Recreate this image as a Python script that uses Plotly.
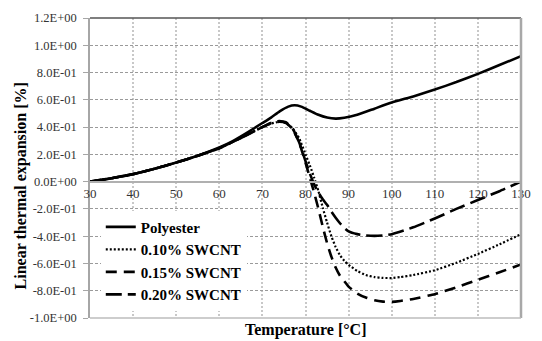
import plotly.graph_objects as go

# Temperature (°C) and linear thermal expansion (%) for each sample
t_poly = [30, 32, 35, 40, 45, 50, 55, 60, 63, 66, 70, 72, 74, 76, 77.5, 79, 81, 83, 85, 87, 89,
          92, 96, 100, 105, 110, 115, 120, 125, 130]
v_poly = [0.0, 0.008, 0.025, 0.055, 0.095, 0.14, 0.19, 0.25, 0.295, 0.35, 0.43, 0.47, 0.515, 0.55,
          0.56, 0.55, 0.52, 0.49, 0.47, 0.462, 0.468, 0.49, 0.535, 0.58, 0.625, 0.675, 0.73, 0.79,
          0.855, 0.92]

t_010 = [30, 35, 40, 45, 50, 55, 60, 65, 68, 70, 72, 74, 75.5, 77, 78.5, 80, 81, 82, 83, 84, 85,
         86, 87, 88, 89, 90, 92, 94, 96, 98, 100, 102, 105, 110, 115, 120, 125, 130]
v_010 = [0.0, 0.025, 0.055, 0.095, 0.14, 0.19, 0.245, 0.32, 0.37, 0.40, 0.425, 0.44, 0.43, 0.39,
         0.32, 0.20, 0.12, 0.03, -0.07, -0.19, -0.30, -0.40, -0.48, -0.54, -0.58, -0.61, -0.655,
         -0.685, -0.70, -0.706, -0.707, -0.70, -0.685, -0.65, -0.595, -0.53, -0.46, -0.385]

t_015 = [30, 35, 40, 45, 50, 55, 60, 65, 70, 72, 74, 75.5, 77, 78.5, 80, 81, 82, 83, 84, 85, 86,
         87, 88, 89, 90, 92, 94, 96, 98, 100, 102, 105, 110, 115, 120, 125, 130]
v_015 = [0.0, 0.025, 0.055, 0.095, 0.14, 0.19, 0.245, 0.32, 0.40, 0.43, 0.445, 0.435, 0.39, 0.29,
         0.14, 0.03, -0.08, -0.2, -0.33, -0.45, -0.55, -0.63, -0.69, -0.73, -0.77, -0.82, -0.85,
         -0.87, -0.88, -0.882, -0.875, -0.86, -0.825, -0.775, -0.72, -0.665, -0.607]

t_020 = [30, 35, 40, 45, 50, 55, 60, 65, 70, 72, 74, 75.5, 77, 78.5, 80, 81, 82, 83, 84, 85, 86,
         87, 88, 89, 90, 92, 94, 96, 98, 100, 105, 110, 115, 120, 125, 130]
v_020 = [0.0, 0.025, 0.055, 0.095, 0.14, 0.19, 0.245, 0.32, 0.40, 0.43, 0.44, 0.43, 0.385, 0.29,
         0.15, 0.06, -0.02, -0.08, -0.13, -0.17, -0.22, -0.265, -0.305, -0.34, -0.365, -0.385,
         -0.395, -0.398, -0.395, -0.385, -0.335, -0.27, -0.2, -0.135, -0.07, 0.0]

series_names = ["Polyester", "0.10% SWCNT", "0.15% SWCNT", "0.20% SWCNT"]

x_ticks = [30, 40, 50, 60, 70, 80, 90, 100, 110, 120, 130]
y_ticks = [-1.0, -0.8, -0.6, -0.4, -0.2, 0.0, 0.2, 0.4, 0.6, 0.8, 1.0, 1.2]
y_tick_labels = [f"{v:.1E}" for v in y_ticks]

X_RANGE = [30, 130]
Y_RANGE = [-1.0, 1.2]

SERIF = "Liberation Serif, Times New Roman, DejaVu Serif, serif"
styles = ["solid", "2px,2px", "11px,7px", "16px,6px"]
widths = [2.6, 2.2, 2.6, 2.6]

fig = go.Figure()
for name, t, v, dash, w in zip(series_names, [t_poly, t_010, t_015, t_020],
                               [v_poly, v_010, v_015, v_020], styles, widths):
    fig.add_trace(go.Scatter(
        x=t, y=v, name=name, mode="lines",
        line=dict(color="black", width=w, dash=dash, shape="spline", smoothing=0.4),
    ))

# x axis sits on the zero line of the y scale
zero_pos = (0 - Y_RANGE[0]) / (Y_RANGE[1] - Y_RANGE[0])

fig.update_layout(
    width=542, height=341,
    margin=dict(l=90, r=13, t=11, b=23),
    paper_bgcolor="white", plot_bgcolor="white",
    font=dict(family=SERIF, color="#333333"),
    showlegend=True,
    legend=dict(
        x=0.025, y=0.358, xanchor="left", yanchor="top",
        bgcolor="white", borderwidth=0,
        font=dict(family=SERIF, size=15, color="black", weight="bold"),
        itemwidth=30, tracegroupgap=0,
    ),
    xaxis=dict(
        range=X_RANGE, tickvals=x_ticks, anchor="free", position=zero_pos,
        showline=True, linecolor="#b0b0b0", linewidth=1.5,
        showgrid=True, gridcolor="#c8c8c8", griddash="2px,2px", gridwidth=2,
        zeroline=False, ticks="", tickfont=dict(family=SERIF, size=13, color="#333333"),
        ticklabelstandoff=0,
    ),
    yaxis=dict(
        range=Y_RANGE, tickvals=y_ticks, ticktext=y_tick_labels,
        showline=True, linecolor="#a6a6a6", linewidth=1.5,
        showgrid=True, gridcolor="#9a9a9a", griddash="3px,2px", gridwidth=1,
        zeroline=False, ticks="outside", ticklen=5, tickcolor="#a6a6a6",
        tickfont=dict(family=SERIF, size=12.5, color="#333333"), ticklabelstandoff=4,
    ),
    annotations=[
        dict(text="Temperature [°C]", xref="paper", yref="paper", x=0.5, y=-0.04,
             xanchor="center", yanchor="middle", showarrow=False,
             font=dict(family=SERIF, size=16, color="black", weight="bold")),
        dict(text="Linear thermal expansion [%]", xref="paper", yref="paper",
             x=-0.159, y=0.44, xanchor="center", yanchor="middle", textangle=-90,
             showarrow=False,
             font=dict(family=SERIF, size=16, color="black", weight="bold")),
    ],
    shapes=[
        dict(type="line", xref="paper", yref="paper", x0=0, x1=1, y0=1, y1=1,
             line=dict(color="#555555", width=1.5)),
        dict(type="line", xref="paper", yref="paper", x0=1, x1=1, y0=0, y1=1,
             line=dict(color="#a8a8a8", width=2.5)),
        dict(type="line", xref="paper", yref="paper", x0=0, x1=1, y0=0, y1=0,
             line=dict(color="#bdbdbd", width=1.5)),
    ],
)

fig.write_html("out.html")
